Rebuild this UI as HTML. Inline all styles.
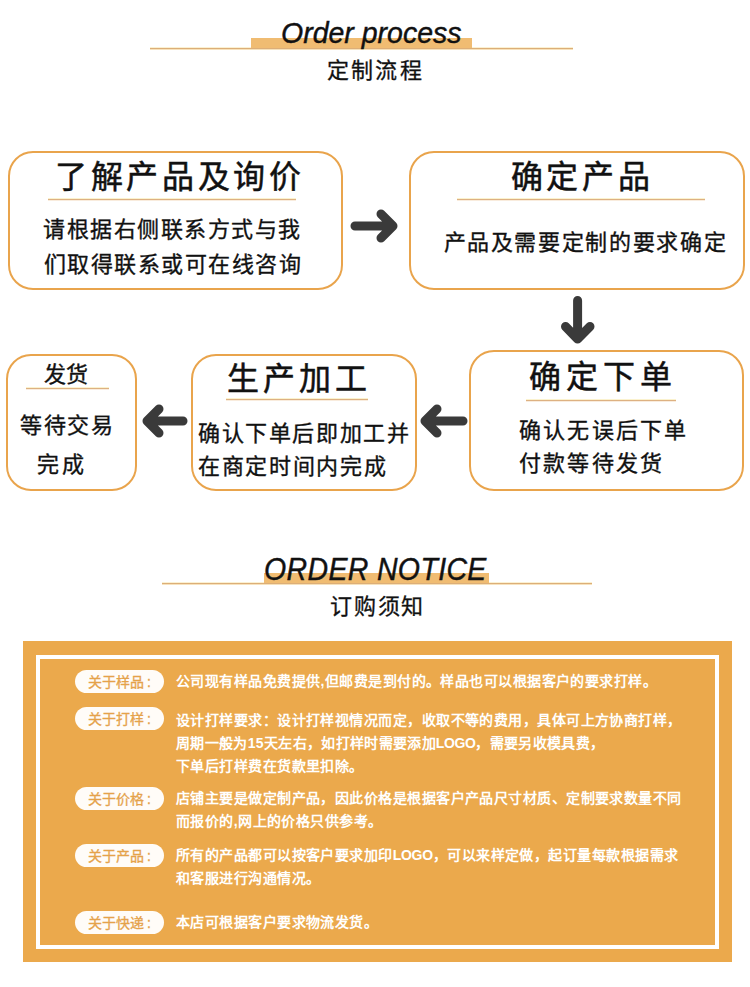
<!DOCTYPE html>
<html lang="zh-CN"><head><meta charset="utf-8">
<style>
html,body{margin:0;padding:0;background:#fff;}
body{width:750px;height:987px;position:relative;overflow:hidden;font-family:"Liberation Sans",sans-serif;color:#111;}
.a{position:absolute;white-space:nowrap;}
.line{position:absolute;background:linear-gradient(#FBF1D2 0,#FBF1D2 1px,#DCAE78 1px,#DCAE78 2px,#F7E2BC 2px);}
.bar{position:absolute;background:#F0BC72;}
.en{position:absolute;font-style:italic;font-size:28.5px;line-height:1;color:#111;white-space:nowrap;transform:scaleY(1.06);transform-origin:0 85%;-webkit-text-stroke:0.4px #111;}
.cn{position:absolute;font-size:22px;line-height:1;color:#111;white-space:nowrap;-webkit-text-stroke:0.3px #111;}
.box{position:absolute;border:2px solid #E9A44C;border-radius:25px;box-sizing:border-box;background:#fff;}
.t{position:absolute;font-size:32px;line-height:1;color:#111;white-space:nowrap;letter-spacing:3px;-webkit-text-stroke:0.5px #111;}
.d{position:absolute;font-size:22px;line-height:1;color:#111;white-space:nowrap;letter-spacing:1.5px;-webkit-text-stroke:0.35px #111;}
.dv{position:absolute;height:3px;background:linear-gradient(#FBF2CE 0,#FBF2CE 1px,#DDB182 1px,#DDB182 2px,#F9ECDD 2px);margin-top:-0.5px;}
.panel{position:absolute;left:23px;top:641px;width:709px;height:321px;background:#EBA94C;}
.frame{position:absolute;left:36px;top:655px;width:675px;height:286px;border:4px solid #fff;}
.pill{position:absolute;left:75px;width:89px;height:23px;border-radius:12px;background:#FFFCF8;}
.pl{position:absolute;left:88px;font-size:14px;line-height:1;color:#E5A24A;white-space:nowrap;-webkit-text-stroke:0.3px #E5A24A;}
.tx{position:absolute;left:176px;font-size:14px;line-height:23px;color:#fff;font-weight:bold;white-space:nowrap;letter-spacing:0.45px;}
</style></head><body>

<!-- header 1 -->
<div class="line" style="left:150px;top:47px;width:423px;height:3px;"></div>
<div class="bar" style="left:251px;top:38px;width:221px;height:10px;"></div>
<div class="en" style="left:281px;top:18.5px;">Order process</div>
<div class="cn" style="left:327px;top:60px;letter-spacing:2.2px;">定制流程</div>

<!-- boxes -->
<div class="box" style="left:8px;top:151px;width:335px;height:139px;"></div>
<div class="t" style="left:55px;top:161px;letter-spacing:3.7px;">了解产品及询价</div>
<div class="dv" style="left:48px;top:198px;width:248px;"></div>
<div class="d" style="left:43px;top:218.5px;">请根据右侧联系方式与我</div>
<div class="d" style="left:43.5px;top:253.5px;">们取得联系或可在线咨询</div>

<div class="box" style="left:409px;top:151px;width:336px;height:139px;"></div>
<div class="t" style="left:510.5px;top:161px;letter-spacing:3.8px;">确定产品</div>
<div class="dv" style="left:457px;top:198px;width:248px;"></div>
<div class="d" style="left:443.5px;top:231.5px;letter-spacing:1.65px;">产品及需要定制的要求确定</div>

<div class="box" style="left:469px;top:350px;width:275px;height:141px;"></div>
<div class="t" style="left:529px;top:361px;letter-spacing:4.9px;">确定下单</div>
<div class="dv" style="left:526px;top:399px;width:150px;"></div>
<div class="d" style="left:519px;top:419.5px;letter-spacing:2.2px;">确认无误后下单</div>
<div class="d" style="left:519px;top:453px;letter-spacing:2.2px;">付款等待发货</div>

<div class="box" style="left:191px;top:354px;width:226px;height:137px;"></div>
<div class="t" style="left:227px;top:363px;letter-spacing:4px;">生产加工</div>
<div class="dv" style="left:226px;top:398px;width:142px;"></div>
<div class="d" style="left:198px;top:423px;letter-spacing:1.6px;">确认下单后即加工并</div>
<div class="d" style="left:198px;top:455.5px;letter-spacing:1.65px;">在商定时间内完成</div>

<div class="box" style="left:6px;top:354px;width:131px;height:137px;"></div>
<div class="d" style="left:44px;top:364px;letter-spacing:0px;">发货</div>
<div class="dv" style="left:26px;top:387px;width:83px;"></div>
<div class="d" style="left:20px;top:414.5px;">等待交易</div>
<div class="d" style="left:36.6px;top:454px;letter-spacing:3.5px;">完成</div>

<!-- arrows -->
<svg class="a" style="left:0;top:0" width="750" height="520">
<g fill="none" stroke="#3a3a3a" stroke-width="9" stroke-linecap="round" stroke-linejoin="round">
<path d="M355 226 H393 M381 214 L393 226 L381 238"/>
<path d="M577.6 300.5 V339 M565.5 326.5 L577.6 339 L590 326.5"/>
<path d="M463 421 H425 M437 409 L425 421 L437 433"/>
<path d="M183 421 H147 M159 409 L147 421 L159 433"/>
</g>
</svg>

<!-- header 2 -->
<div class="line" style="left:162px;top:582px;width:430px;height:3px;"></div>
<div class="bar" style="left:264px;top:573px;width:225px;height:10px;"></div>
<div class="en" style="left:264px;top:556px;letter-spacing:0.35px;transform:scaleY(1.08);">ORDER NOTICE</div>
<div class="cn" style="left:330px;top:596px;letter-spacing:1.8px;">订购须知</div>

<!-- panel -->
<div class="panel"></div>
<div class="frame"></div>

<div class="pill" style="top:670px;"></div><div class="pl" style="top:675px;">关于样品<span style="margin-left:3px">:</span></div>
<div class="tx" style="top:670px;">公司现有样品免费提供,但邮费是到付的。样品也可以根据客户的要求打样。</div>

<div class="pill" style="top:707px;"></div><div class="pl" style="top:712px;">关于打样<span style="margin-left:3px">:</span></div>
<div class="tx" style="top:708.5px;">设计打样要求：设计打样视情况而定，收取不等的费用，具体可上方协商打样，<br><span style="letter-spacing:0.33px">周期一般为15天左右，如打样时需要添加<span style="letter-spacing:-0.4px">LOGO</span>，需要另收模具费，</span><br>下单后打样费在货款里扣除。</div>

<div class="pill" style="top:786.5px;"></div><div class="pl" style="top:792px;">关于价格<span style="margin-left:3px">:</span></div>
<div class="tx" style="top:787px;">店铺主要是做定制产品，因此价格是根据客户产品尺寸材质、定制要求数量不同<br>而报价的,网上的价格只供参考。</div>

<div class="pill" style="top:843.5px;"></div><div class="pl" style="top:849px;">关于产品<span style="margin-left:3px">:</span></div>
<div class="tx" style="top:844px;">所有的产品都可以按客户要求加印<span style="letter-spacing:-0.3px">LOGO</span>，可以来样定做，起订量每款根据需求<br>和客服进行沟通情况。</div>

<div class="pill" style="top:910.5px;"></div><div class="pl" style="top:916px;">关于快递<span style="margin-left:3px">:</span></div>
<div class="tx" style="top:911px;">本店可根据客户要求物流发货。</div>

</body></html>
